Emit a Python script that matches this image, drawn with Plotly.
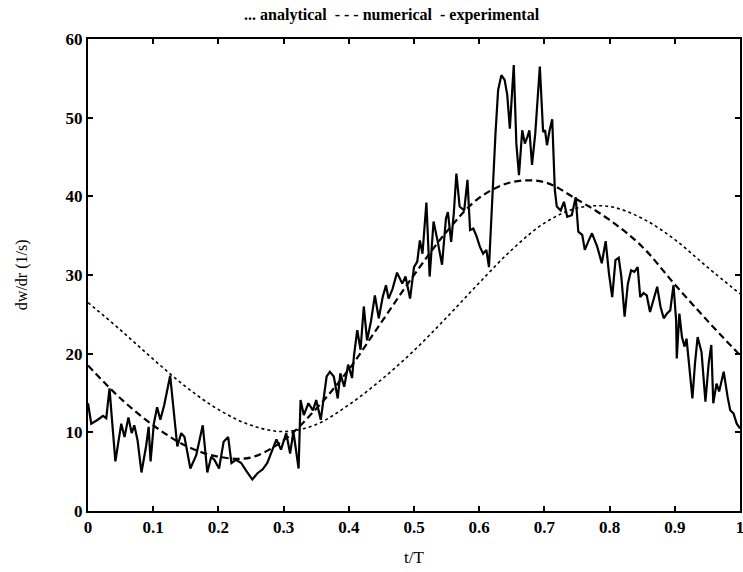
import plotly.graph_objects as go

# Analytical solution (smooth), sampled every 0.05 of the period
t_ana = [0.0, 0.05, 0.1, 0.15, 0.2, 0.25, 0.3, 0.35, 0.4, 0.45, 0.5,
         0.55, 0.6, 0.65, 0.7, 0.75, 0.8, 0.85, 0.9, 0.95, 1.0]
v_ana = [26.5, 23.0, 19.3, 15.8, 12.9, 10.9, 10.1, 11.0, 13.5, 16.7, 20.4,
         24.6, 29.0, 33.2, 36.6, 38.5, 38.7, 37.2, 34.5, 31.0, 27.6]

# Numerical solution (smooth), sampled every 0.05 of the period
t_num = [0.0, 0.05, 0.1, 0.15, 0.2, 0.25, 0.3, 0.35, 0.4, 0.45, 0.5,
         0.55, 0.6, 0.65, 0.7, 0.75, 0.8, 0.85, 0.9, 0.95, 1.0]
v_num = [18.5, 14.3, 10.9, 8.3, 6.9, 6.8, 9.0, 13.0, 18.0, 24.0, 30.0,
         35.5, 39.8, 41.8, 41.8, 39.6, 37.0, 33.6, 28.8, 24.2, 19.8]

# Experimental measurements
t_exp = [0.000, 0.005, 0.015, 0.023, 0.028, 0.033, 0.036, 0.042, 0.051, 0.056,
         0.062, 0.067, 0.071, 0.076, 0.082, 0.089, 0.093, 0.096, 0.101, 0.106,
         0.111, 0.117, 0.126, 0.131, 0.137, 0.143, 0.148, 0.157, 0.166, 0.176,
         0.183, 0.189, 0.194, 0.201, 0.208, 0.215, 0.220, 0.227, 0.235, 0.242,
         0.252, 0.260, 0.268, 0.275, 0.283, 0.289, 0.296, 0.304, 0.310, 0.315,
         0.323, 0.326, 0.331, 0.338, 0.345, 0.350, 0.357, 0.366, 0.371, 0.377,
         0.383, 0.387, 0.393, 0.399, 0.405, 0.408, 0.413, 0.418, 0.423, 0.428,
         0.434, 0.440, 0.446, 0.452, 0.457, 0.461, 0.467, 0.474, 0.482, 0.487,
         0.494, 0.500, 0.505, 0.509, 0.513, 0.519, 0.524, 0.530, 0.536, 0.543,
         0.549, 0.552, 0.557, 0.561, 0.565, 0.570, 0.577, 0.582, 0.586, 0.591,
         0.596, 0.601, 0.606, 0.611, 0.615, 0.621, 0.625, 0.629, 0.634, 0.639,
         0.643, 0.647, 0.650, 0.653, 0.657, 0.661, 0.666, 0.670, 0.674, 0.677,
         0.681, 0.686, 0.693, 0.698, 0.701, 0.704, 0.708, 0.712, 0.716, 0.719,
         0.725, 0.730, 0.735, 0.742, 0.748, 0.752, 0.758, 0.762, 0.768, 0.773,
         0.781, 0.788, 0.794, 0.799, 0.804, 0.809, 0.814, 0.818, 0.823, 0.828,
         0.833, 0.838, 0.843, 0.847, 0.852, 0.857, 0.862, 0.868, 0.873, 0.878,
         0.883, 0.888, 0.893, 0.898, 0.902, 0.903, 0.907, 0.911, 0.915, 0.918,
         0.922, 0.927, 0.931, 0.935, 0.941, 0.947, 0.952, 0.956, 0.959, 0.964,
         0.968, 0.975, 0.981, 0.985, 0.990, 0.995, 1.000]
v_exp = [13.7, 11.1, 11.6, 12.1, 11.8, 15.6, 12.4, 6.3, 11.1, 9.4,
         11.9, 9.9, 10.9, 9.0, 4.9, 8.2, 10.7, 6.3, 11.1, 13.2,
         11.6, 13.5, 17.2, 13.3, 8.2, 9.9, 9.4, 5.4, 7.1, 10.9,
         4.9, 6.9, 6.5, 5.4, 8.8, 9.4, 6.1, 6.5, 6.1, 5.2,
         4.0, 4.8, 5.3, 6.1, 7.8, 9.1, 7.8, 9.9, 7.3, 10.1,
         5.4, 14.1, 12.2, 13.7, 12.8, 14.1, 11.6, 17.1, 17.7, 17.1,
         14.3, 17.5, 15.8, 18.6, 16.9, 19.8, 23.0, 20.5, 26.0, 21.7,
         24.1, 27.4, 24.5, 27.2, 28.7, 27.0, 28.2, 30.3, 28.9, 29.8,
         27.0, 31.0, 31.7, 34.4, 32.7, 39.2, 29.8, 36.8, 34.4, 31.3,
         37.2, 38.0, 34.2, 37.8, 42.9, 38.7, 38.2, 42.1, 35.7, 35.9,
         34.9, 33.6, 32.7, 33.2, 31.0, 41.6, 48.0, 53.5, 55.4, 54.8,
         52.9, 48.6, 52.6, 56.7, 46.7, 42.7, 48.4, 46.7, 47.6, 48.4,
         44.0, 48.0, 56.5, 48.2, 48.4, 46.5, 48.4, 49.8, 40.8, 38.7,
         38.2, 39.3, 37.4, 37.6, 39.9, 35.5, 35.1, 33.2, 34.4, 35.3,
         33.6, 31.5, 34.3, 30.2, 27.2, 31.9, 32.2, 29.8, 24.7, 28.9,
         30.6, 30.4, 31.0, 27.2, 27.7, 27.4, 25.3, 27.0, 28.5, 26.0,
         24.5, 25.1, 25.5, 28.7, 24.3, 19.4, 25.1, 22.1, 20.9, 21.9,
         18.3, 14.3, 18.8, 22.1, 20.2, 13.9, 18.8, 21.1, 13.7, 16.2,
         15.2, 17.7, 14.5, 12.8, 12.4, 11.1, 10.5]

x_ticks = [0, 0.1, 0.2, 0.3, 0.4, 0.5, 0.6, 0.7, 0.8, 0.9, 1]
x_tick_text = ["0", "0.1", "0.2", "0.3", "0.4", "0.5", "0.6", "0.7", "0.8", "0.9", "1"]
y_ticks = [0, 10, 20, 30, 40, 50, 60]

serif = "Liberation Serif, Times New Roman, serif"

fig = go.Figure()
fig.add_trace(go.Scatter(x=t_ana, y=v_ana, mode="lines", name="analytical",
                         line=dict(color="black", width=1.6, dash="dot", shape="spline")))
fig.add_trace(go.Scatter(x=t_num, y=v_num, mode="lines", name="numerical",
                         line=dict(color="black", width=2.2, dash="7px,4px", shape="spline")))
fig.add_trace(go.Scatter(x=t_exp, y=v_exp, mode="lines", name="experimental",
                         line=dict(color="black", width=2.2)))

axis_common = dict(
    showgrid=False, zeroline=False, showline=True, linecolor="black", linewidth=2,
    mirror="ticks", ticks="inside", ticklen=5, tickwidth=1.5, tickcolor="black",
    tickfont=dict(family=serif, size=17, color="black"), automargin=False,
    ticklabeloverflow="allow",
)

fig.update_layout(
    width=743, height=572,
    margin=dict(l=88, r=3, t=39, b=61),
    paper_bgcolor="white", plot_bgcolor="white",
    showlegend=False,
    title=dict(text="<b>... analytical  - - - numerical  - experimental</b>",
               x=0.527, xanchor="center", y=0.975, yanchor="middle",
               font=dict(family=serif, size=16, color="black")),
    xaxis=dict(range=[0, 1], tickvals=x_ticks, ticktext=[f"<b>{s}</b>" for s in x_tick_text],
               **axis_common),
    yaxis=dict(range=[0, 60], tickvals=y_ticks, ticktext=[f"<b>{v}</b>" for v in y_ticks],
               **axis_common),
    annotations=[
        dict(text="t/T", xref="paper", yref="paper", x=0.5, y=-0.098,
             xanchor="center", yanchor="middle", showarrow=False,
             font=dict(family=serif, size=17, color="black")),
        dict(text="dw/dr (1/s)", xref="paper", yref="paper", x=-0.101, y=0.5,
             xanchor="center", yanchor="middle", showarrow=False, textangle=-90,
             font=dict(family=serif, size=16, color="black")),
    ],
)

fig.write_html("out.html")
